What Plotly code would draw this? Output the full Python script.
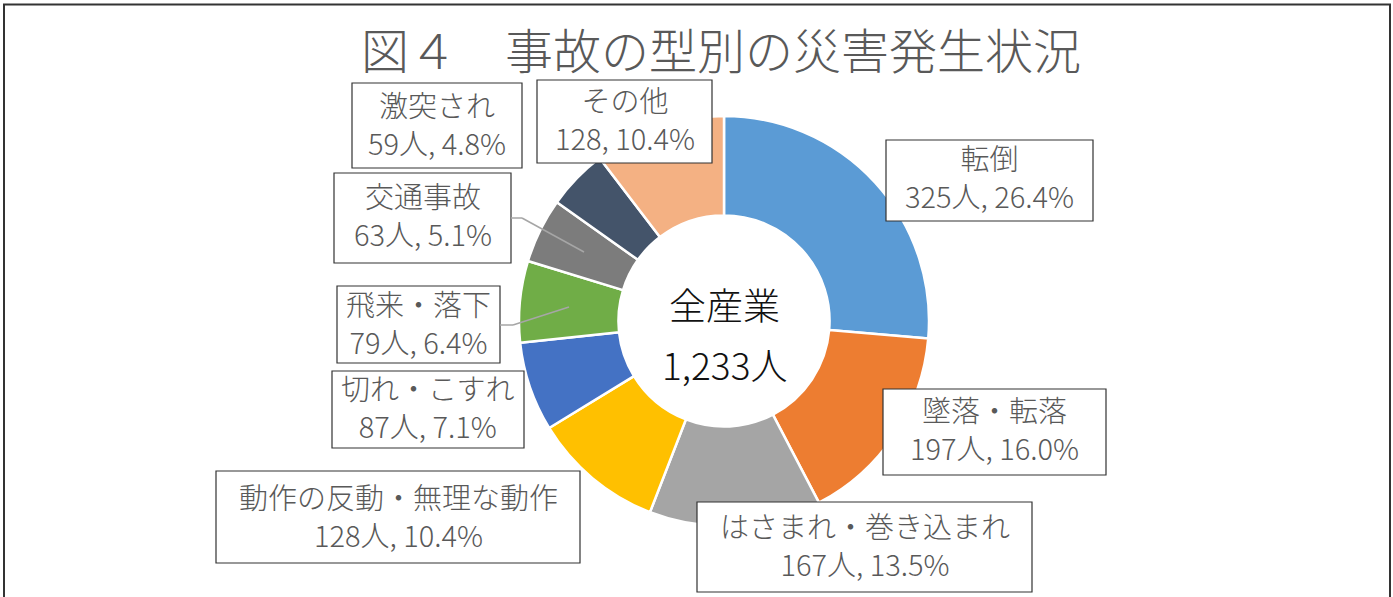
import plotly.graph_objects as go

W, H = 1393, 597

categories = ["転倒", "墜落・転落", "はさまれ・巻き込まれ", "動作の反動・無理な動作",
              "切れ・こすれ", "飛来・落下", "交通事故", "激突され", "その他"]
values = [325, 197, 167, 128, 87, 79, 63, 59, 128]
percents = ["26.4%", "16.0%", "13.5%", "10.4%", "7.1%", "6.4%", "5.1%", "4.8%", "10.4%"]
units = ["人", "人", "人", "人", "人", "人", "人", "人", ""]
colors = ["#5B9BD5", "#ED7D31", "#A5A5A5", "#FFC000", "#4472C4",
          "#70AD47", "#7C7C7C", "#44546A", "#F4B183"]

title_text = "図４　事故の型別の災害発生状況"
center_lines = ["全産業", "1,233人"]

# label box layout in pixels: (x0, y0, x1, y1, text center y)
boxes = [
    (886, 140, 1093, 221, 176),
    (883, 389, 1106, 475, 428),
    (697, 502, 1032, 592, 544),
    (216, 471, 580, 563, 515),
    (332, 371, 524, 448, 406),
    (337, 286, 500, 363, 322),
    (334, 173, 511, 263, 214),
    (352, 83, 522, 168, 123),
    (537, 80, 712, 163, 118),
]

def px(x):
    return x / W

def py(y):
    return 1 - y / H

FONT = "Noto Sans CJK JP, Noto Sans, sans-serif"
GRAY = "#595959"

fig = go.Figure()
fig.add_trace(go.Pie(
    labels=categories, values=values, sort=False, direction="clockwise",
    rotation=0, hole=0.515, textinfo="none", hoverinfo="none",
    marker=dict(colors=colors, line=dict(color="white", width=2.5)),
    domain=dict(x=[px(519), px(929)], y=[py(526), py(116)]),
    showlegend=False,
))

shapes = []
annotations = []

# outer frame
shapes.append(dict(type="rect", xref="paper", yref="paper",
                   x0=px(4), x1=px(1390), y0=-0.05, y1=py(4.5),
                   line=dict(color="#333333", width=2), layer="below"))

for cat, v, p, u, (x0, y0, x1, y1, cy) in zip(categories, values, percents, units, boxes):
    shapes.append(dict(type="rect", xref="paper", yref="paper",
                       x0=px(x0), x1=px(x1), y0=py(y1), y1=py(y0),
                       fillcolor="white", line=dict(color="#333333", width=1.2)))
    annotations.append(dict(
        xref="paper", yref="paper", x=px((x0 + x1) / 2), y=py(cy),
        xanchor="center", yanchor="middle", showarrow=False,
        text=f"{cat}<br>{v}{u}, {p}",
        font=dict(family=FONT, size=29, color=GRAY, weight=300),
    ))

# leader lines
leaders = [
    [(511, 218), (522, 218), (584, 252)],
    [(500, 325), (513, 325), (569, 307)],
]
for pts in leaders:
    for (ax, ay), (bx, by) in zip(pts[:-1], pts[1:]):
        shapes.append(dict(type="line", xref="paper", yref="paper",
                           x0=px(ax), y0=py(ay), x1=px(bx), y1=py(by),
                           line=dict(color="#A6A6A6", width=1.5)))

# title
annotations.append(dict(
    xref="paper", yref="paper", x=px(721), y=py(48), xanchor="center", yanchor="middle",
    showarrow=False, text=title_text,
    font=dict(family=FONT, size=48, color=GRAY, weight=300),
))

# center text
for line, cy in zip(center_lines, [304, 364]):
    annotations.append(dict(
        xref="paper", yref="paper", x=px(724), y=py(cy), xanchor="center", yanchor="middle",
        showarrow=False, text=line,
        font=dict(family=FONT, size=37, color="#111111", weight=300),
    ))

fig.update_layout(
    width=W, height=H, margin=dict(l=0, r=0, t=0, b=0),
    paper_bgcolor="white", plot_bgcolor="white",
    shapes=shapes, annotations=annotations, hovermode=False,
)

fig.write_html("out.html", config={"displayModeBar": False},
               post_script="document.body.style.margin='0px';document.body.style.overflow='hidden';")
